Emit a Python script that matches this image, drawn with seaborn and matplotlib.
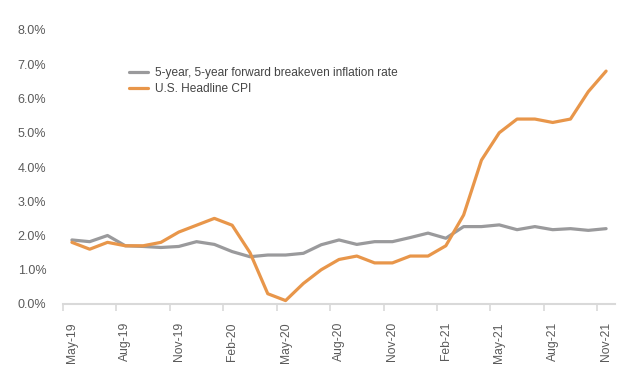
import numpy as np
import pandas as pd
import matplotlib
matplotlib.use("Agg")
import matplotlib.pyplot as plt
import seaborn as sns

## Data (monthly, May-19 .. Nov-21)
months = pd.date_range("2019-05-01", "2021-11-01", freq="MS")
month_labels = [d.strftime("%b-%y") for d in months]

breakeven = [1.87, 1.82, 2.00, 1.70, 1.68, 1.65, 1.68, 1.82, 1.74, 1.53,
             1.38, 1.43, 1.43, 1.48, 1.73, 1.87, 1.74, 1.82, 1.82, 1.94,
             2.07, 1.92, 2.26, 2.26, 2.31, 2.17, 2.26, 2.17, 2.20, 2.15,
             2.20]
headline_cpi = [1.8, 1.6, 1.8, 1.7, 1.7, 1.8, 2.1, 2.3, 2.5, 2.3,
                1.5, 0.3, 0.1, 0.6, 1.0, 1.3, 1.4, 1.2, 1.2, 1.4,
                1.4, 1.7, 2.6, 4.2, 5.0, 5.4, 5.4, 5.3, 5.4, 6.2,
                6.8]

series_names = ["5-year, 5-year forward breakeven inflation rate",
                "U.S. Headline CPI"]
colors = ["#9a9a9c", "#e8964a"]

df = pd.DataFrame({"idx": np.arange(len(months)),
                   series_names[0]: breakeven,
                   series_names[1]: headline_cpi})
long = df.melt(id_vars="idx", var_name="series", value_name="value")

## Plot
sns.set_style("white")
plt.rcParams["font.family"] = ["Liberation Sans", "DejaVu Sans"]

fig = plt.figure(figsize=(6.35, 3.78), dpi=100)
ax = fig.add_axes([63 / 635, 1 - 304 / 378, (615 - 63) / 635, (304 - 30) / 378])

sns.lineplot(data=long, x="idx", y="value", hue="series",
             palette=colors, linewidth=2.3, ax=ax)

ax.set_xlim(-0.5, len(months) - 0.5)
ax.set_ylim(0, 8)
ax.set_yticks(np.arange(0, 9, 1))
ax.set_yticklabels([f"{v:.1f}%" for v in range(9)])

tick_pos = np.arange(0, len(months), 3)
ax.set_xticks(tick_pos)
ax.set_xticklabels([month_labels[i] for i in tick_pos], rotation=90)
ax.set_xticks(np.arange(-0.5, len(months) - 0.5, 3), minor=True)
ax.tick_params(axis="x", which="major", length=0, pad=13,
               labelsize=8.7, labelcolor="#5a5a5a")
ax.tick_params(axis="x", which="minor", length=5, width=1.2,
               color="#d9d9d9", direction="out", bottom=True)
ax.tick_params(axis="y", length=0, pad=12, labelsize=9,
               labelcolor="#5a5a5a")

ax.set_xlabel("")
ax.set_ylabel("")
for side in ["top", "right", "left"]:
    ax.spines[side].set_visible(False)
ax.spines["bottom"].set_color("#d9d9d9")
ax.spines["bottom"].set_linewidth(1.5)

leg = ax.legend(loc="upper left", bbox_to_anchor=(0.1, 0.905), frameon=False,
                fontsize=8.6, handlelength=1.6, handletextpad=0.6,
                labelspacing=0.35)
for t in leg.get_texts():
    t.set_color("#444444")

fig.savefig("out.png", dpi=100)
